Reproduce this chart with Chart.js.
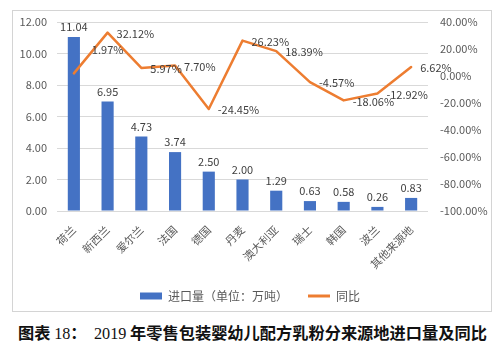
<!DOCTYPE html>
<html><head><meta charset="utf-8">
<script src="https://cdn.jsdelivr.net/npm/chart.js@4"></script>
<style>
html,body{margin:0;padding:0;background:#fff;}
#wrap{position:relative;width:500px;height:352px;overflow:hidden;}
#frame{position:absolute;left:12px;top:10px;width:480px;height:302px;border:1px solid #d4d4d4;box-sizing:border-box;}
#c{position:absolute;left:0;top:0;}
#cap{position:absolute;left:18px;top:320px;white-space:nowrap;font-size:16px;color:#111;font-family:"Noto Sans CJK SC",sans-serif;font-weight:bold;}
#cap .s{font-family:"Liberation Serif",serif;font-weight:normal;}
</style></head>
<body>
<div id="wrap">
<div id="frame"></div>
<canvas id="c" width="500" height="312"></canvas>
<div id="cap">图表 <span class="s">18</span>：&nbsp; <span class="s">2019</span> 年零售包装婴幼儿配方乳粉分来源地进口量及同比</div>
</div>
<script>
const categories = ['荷兰','新西兰','爱尔兰','法国','德国','丹麦','澳大利亚','瑞士','韩国','波兰','其他来源地'];
const importVol = [11.04, 6.95, 4.73, 3.74, 2.50, 2.00, 1.29, 0.63, 0.58, 0.26, 0.83];
const yoyPct = [1.97, 32.12, 5.97, 7.70, -24.45, 26.23, 18.39, -4.57, -18.06, -12.92, 6.62];
const seriesNames = ['进口量（单位：万吨）', '同比'];

// fit caption to reference width
(function(){
  const cap = document.getElementById('cap');
  const target = 469;
  let fs = 16;
  for (let k = 0; k < 6; k++) {
    const w = cap.getBoundingClientRect().width;
    fs = fs * target / w;
    cap.style.fontSize = fs + 'px';
  }
})();

const FONT = '"Noto Sans CJK SC","Noto Sans",sans-serif';
const TXT = '#595959';

const valueLabels = {
  id: 'valueLabels',
  afterDatasetsDraw(chart) {
    const ctx = chart.ctx;
    ctx.save();
    ctx.font = '11px ' + FONT;
    ctx.fillStyle = '#404040';
    const bars = chart.getDatasetMeta(0).data;
    ctx.textAlign = 'center';
    ctx.textBaseline = 'middle';
    bars.forEach((el, i) => ctx.fillText(importVol[i].toFixed(2), el.x, el.y - 10));
    const pts = chart.getDatasetMeta(1).data;
    ctx.textAlign = 'left';
    pts.forEach((el, i) => {
      const dx = i === 0 ? 18 : 9;
      const dy = i === 0 ? -24 : 1;
      ctx.fillText(yoyPct[i].toFixed(2) + '%', el.x + dx, el.y + dy);
    });
    ctx.restore();
  }
};

new Chart(document.getElementById('c'), {
  data: {
    labels: categories,
    datasets: [
      { type: 'bar', label: seriesNames[0], data: importVol, yAxisID: 'y',
        backgroundColor: '#4472C4', borderWidth: 0, order: 2,
        categoryPercentage: 1.0, barPercentage: 0.36 },
      { type: 'line', label: seriesNames[1], data: yoyPct, yAxisID: 'y1',
        borderColor: '#ED7D31', backgroundColor: '#ED7D31', borderWidth: 2.5,
        pointRadius: 0, tension: 0, order: 1,
        borderJoinStyle: 'round', borderCapStyle: 'round' }
    ]
  },
  options: {
    responsive: false,
    animation: false,
    layout: { padding: { top: 22, bottom: 0, left: 0, right: 0 } },
    plugins: {
      tooltip: { enabled: false },
      legend: {
        position: 'bottom',
        labels: {
          color: TXT, font: { family: FONT, size: 12 },
          usePointStyle: true, pointStyleWidth: 22, boxHeight: 7, padding: 20,
          generateLabels(chart) {
            return chart.data.datasets.map((ds, i) => ({
              text: ds.label, datasetIndex: i,
              fillStyle: ds.backgroundColor, strokeStyle: ds.type === 'line' ? ds.borderColor : ds.backgroundColor,
              lineWidth: ds.type === 'line' ? 3 : 0,
              pointStyle: ds.type === 'line' ? 'line' : 'rect',
              fontColor: TXT, hidden: false
            }));
          }
        }
      }
    },
    scales: {
      x: {
        grid: { display: false, drawTicks: false },
        border: { display: false },
        ticks: { color: TXT, font: { family: FONT, size: 11 }, minRotation: 45, maxRotation: 45, padding: 12, autoSkip: false },
        afterFit(s) { s.height = 59; }
      },
      y: {
        position: 'left', min: 0, max: 12,
        grid: { color: '#d9d9d9', drawTicks: false },
        border: { display: false },
        ticks: { stepSize: 2, color: TXT, font: { family: FONT, size: 11 }, padding: 10,
          callback: v => v.toFixed(2) },
        afterFit(s) { s.width = 57; }
      },
      y1: {
        position: 'right', min: -100, max: 40,
        grid: { display: false, drawTicks: false },
        border: { display: false },
        ticks: { stepSize: 20, color: TXT, font: { family: FONT, size: 11 }, padding: 12,
          callback: v => v.toFixed(2) + '%' },
        afterFit(s) { s.width = 72; }
      }
    }
  },
  plugins: [valueLabels]
});
</script>
</body></html>
